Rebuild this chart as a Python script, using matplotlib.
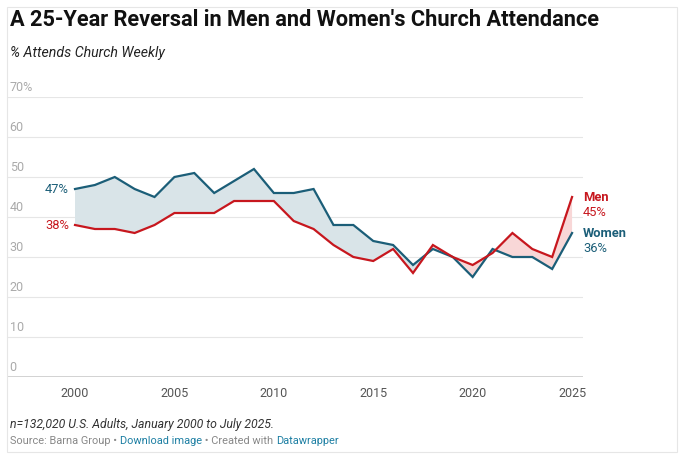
import matplotlib.pyplot as plt
from matplotlib.patches import FancyBboxPatch
import numpy as np

plt.rcParams['font.family'] = ['Roboto', 'DejaVu Sans']

years = list(range(2000, 2026))
women = [47, 48, 50, 47, 45, 50, 51, 46, 49, 52, 46, 46, 47, 38, 38, 34, 33, 28, 32, 30, 25, 32, 30, 30, 27, 36]
men = [38, 37, 37, 36, 38, 41, 41, 41, 44, 44, 44, 39, 37, 33, 30, 29, 32, 26, 33, 30, 28, 31, 36, 32, 30, 45]
yticks = [0, 10, 20, 30, 40, 50, 60, 70]
xticks = [2000, 2005, 2010, 2015, 2020, 2025]

BLUE = '#1b5e78'
RED = '#c7171e'
BLUE_FILL = '#d9e4e8'
RED_FILL = '#f8d7d7'

fig = plt.figure(figsize=(6.85, 4.61), dpi=100)
ax = fig.add_axes([8 / 685, 1 - 377 / 461, (583 - 8) / 685, (377 - 97) / 461])

x = np.array(years)
w = np.array(women)
m = np.array(men)
ax.fill_between(x, w, m, where=w >= m, interpolate=True, color=BLUE_FILL, lw=0)
ax.fill_between(x, w, m, where=m >= w, interpolate=True, color=RED_FILL, lw=0)
ax.plot(x, w, color=BLUE, lw=1.6, solid_joinstyle='miter')
ax.plot(x, m, color=RED, lw=1.6, solid_joinstyle='miter')

ax.set_xlim(1996.63, 2025.55)
ax.set_ylim(0, 70)
for s in ax.spines.values():
    s.set_visible(False)
ax.set_yticks([])
ax.set_xticks(xticks)
ax.set_xticklabels([str(t) for t in xticks], color='#555555', fontsize=9)
ax.tick_params(axis='x', length=0, pad=7)
for t in yticks:
    if t == 0:
        ax.axhline(0, color='#222222', lw=1, zorder=3)
    else:
        ax.axhline(t, color='#e6e6e6', lw=0.8, zorder=0)
    lab = f'{t}%' if t == 70 else str(t)
    ax.text(0.003, t + 0.7, lab, transform=ax.get_yaxis_transform(),
            fontsize=9, color='#aaaaaa', va='bottom', ha='left')

# start labels
ax.text(years[0] - 0.3, women[0], f'{women[0]}%', color=BLUE, fontsize=9.3, ha='right', va='center')
ax.text(years[0] - 0.3, men[0], f'{men[0]}%', color=RED, fontsize=9.3, ha='right', va='center')
# end labels
ax.text(years[-1] + 0.55, men[-1], 'Men', color=RED, fontsize=9.3, fontweight='bold', ha='left', va='center', clip_on=False)
ax.text(years[-1] + 0.55, men[-1] - 3.75, f'{men[-1]}%', color=RED, fontsize=9.3, ha='left', va='center', clip_on=False)
ax.text(years[-1] + 0.55, women[-1], 'Women', color=BLUE, fontsize=9.3, fontweight='bold', ha='left', va='center', clip_on=False)
ax.text(years[-1] + 0.55, women[-1] - 3.75, f'{women[-1]}%', color=BLUE, fontsize=9.3, ha='left', va='center', clip_on=False)

fig.text(10 / 685, 1 - 20 / 461, "A 25-Year Reversal in Men and Women's Church Attendance",
         fontsize=15.7, fontweight='bold', color='#111111', va='center', ha='left')
fig.text(10 / 685, 1 - 53 / 461, '% Attends Church Weekly', fontsize=10.2, style='italic',
         color='#222222', va='center', ha='left')
fig.text(10 / 685, 1 - 424 / 461, 'n=132,020 U.S. Adults, January 2000 to July 2025.', fontsize=8.8,
         style='italic', color='#333333', va='center', ha='left')

# source line with link colours
parts = [('Source: Barna Group \u2022 ', '#888888'), ('Download image', '#1d7fa3'),
         (' \u2022 Created with ', '#888888'), ('Datawrapper', '#1d7fa3')]
renderer = fig.canvas.get_renderer()
xpos = 10
for txt, col in parts:
    t = fig.text(xpos / 685, 1 - 441 / 461, txt, fontsize=7.95, color=col, va='center', ha='left')
    xpos += t.get_window_extent(renderer).width

fig.patches.append(FancyBboxPatch((7 / 685, 1 - 452 / 461), (677 - 7) / 685, (452 - 7) / 461,
                                  boxstyle='square,pad=0', transform=fig.transFigure,
                                  fill=False, ec='#e6e6e6', lw=0.8))

fig.savefig('out.png', dpi=100)
